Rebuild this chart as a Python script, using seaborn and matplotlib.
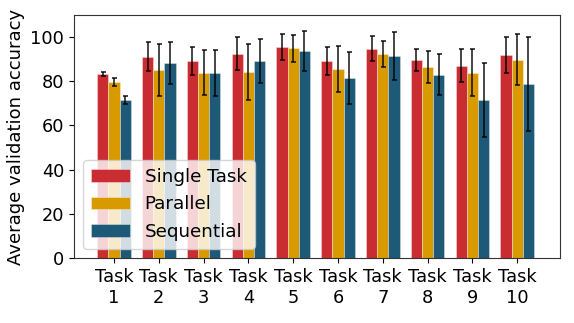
import matplotlib
matplotlib.use("Agg")
import matplotlib.pyplot as plt
import seaborn as sns
import pandas as pd
import numpy as np

# values
tasks = ["Task\n1", "Task\n2", "Task\n3", "Task\n4", "Task\n5",
         "Task\n6", "Task\n7", "Task\n8", "Task\n9", "Task\n10"]
methods = ["Single Task", "Parallel", "Sequential"]

single_mean = [83.3, 91.1, 89.1, 92.4, 95.6, 89.1, 94.7, 89.7, 87.0, 91.9]
single_err = [1.0, 6.5, 6.5, 7.4, 5.8, 6.5, 5.6, 5.0, 7.4, 8.2]
parallel_mean = [79.6, 85.1, 83.9, 84.2, 94.9, 85.5, 92.4, 86.4, 83.9, 89.7]
parallel_err = [2.0, 11.6, 10.0, 12.5, 6.0, 10.6, 5.9, 7.4, 10.8, 11.5]
sequential_mean = [71.5, 88.1, 83.6, 89.1, 93.7, 81.4, 91.5, 83.0, 71.5, 78.7]
sequential_err = [2.0, 9.5, 10.4, 10.0, 9.2, 11.8, 10.9, 9.4, 16.7, 21.4]

colors = ["#C92D32", "#D99A00", "#1E5A78"]

df = pd.DataFrame({
    "task": tasks * 3,
    "method": np.repeat(methods, len(tasks)),
    "acc": single_mean + parallel_mean + sequential_mean,
    "err": single_err + parallel_err + sequential_err,
})

fig, ax = plt.subplots(figsize=(5.74, 3.23), dpi=100)
fig.subplots_adjust(left=0.129, right=0.976, top=0.954, bottom=0.201)

sns.barplot(data=df, x="task", y="acc", hue="method", palette=colors,
            errorbar=None, width=0.75, saturation=1, ax=ax,
            edgecolor=(1, 1, 1, 0.4), linewidth=0.6)

# error bars at the centre of each bar
for container, m in zip(ax.containers, methods):
    sub = df[df["method"] == m]
    xs = [p.get_x() + p.get_width() / 2 for p in container.patches]
    ax.errorbar(xs, sub["acc"].values, yerr=sub["err"].values, fmt="none",
                ecolor="black", elinewidth=1.2, capsize=1.8, capthick=1.2, alpha=0.85)

ax.set_xlim(-0.89, 9.96)
ax.set_ylim(0, 110)
ax.set_yticks([0, 20, 40, 60, 80, 100])
ax.set_xlabel("")
ax.set_ylabel("Average validation accuracy", fontsize=13)
ax.tick_params(axis="both", labelsize=12.8)
for s in ax.spines.values():
    s.set_color("#333333")

ax.legend(loc="lower left", fontsize=13.2, framealpha=0.8,
          handlelength=2.1, borderpad=0.45, labelspacing=0.5)

fig.savefig("out.png", dpi=100)
